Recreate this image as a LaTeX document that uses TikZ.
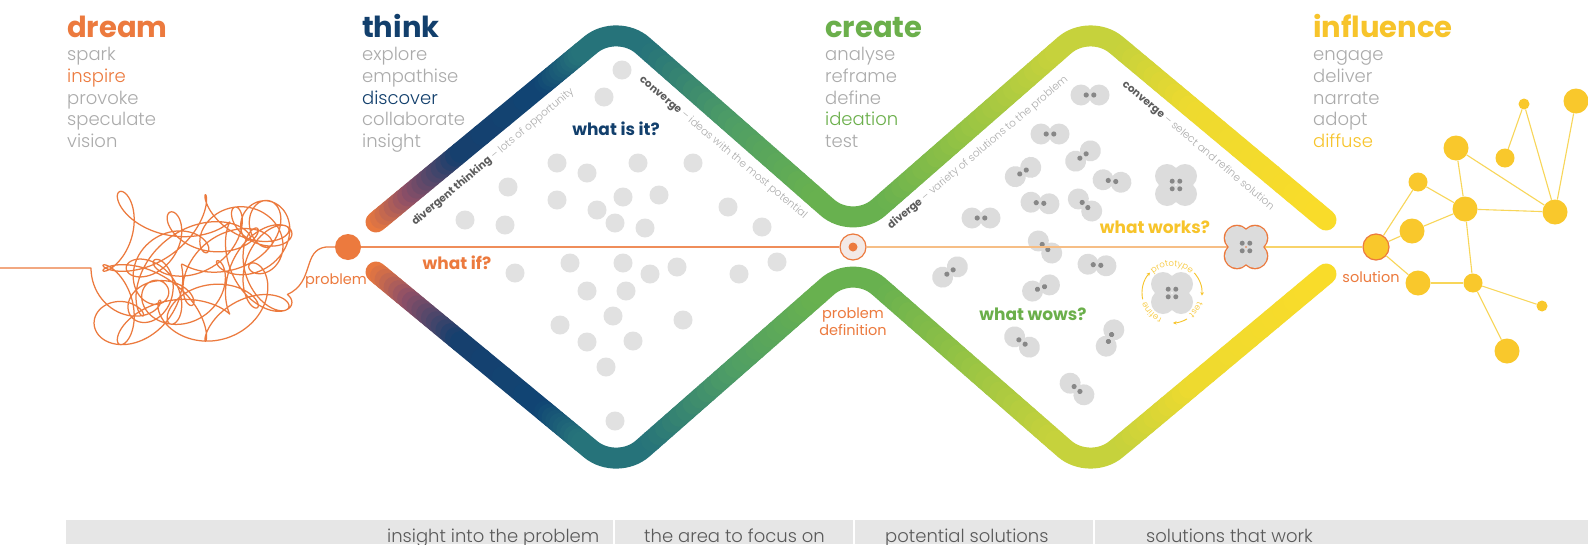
\documentclass[tikz,border=0pt]{standalone}
\usepackage{fontspec}
\setmainfont{Poppins}
\newfontfamily\plight{Poppins Light}
\usetikzlibrary{calc,decorations.text,arrows.meta}

% palette
\definecolor{cdream}{HTML}{EC7A3E}
\definecolor{cthink}{HTML}{123F6C}
\definecolor{ccreate}{HTML}{6BAF4B}
\definecolor{cinfl}{HTML}{F7C42B}
\definecolor{cgreytxt}{HTML}{ABABAB}
\definecolor{cdark}{HTML}{5C5C5C}
\definecolor{cdot}{HTML}{E1E1E1}
\definecolor{cpair}{HTML}{DCDCDC}
\definecolor{cpairdot}{HTML}{878787}
\definecolor{cnet}{HTML}{F9C82C}
\definecolor{cnetline}{HTML}{F8D659}
\definecolor{cbar}{HTML}{E6E6E6}
\definecolor{cbartxt}{HTML}{5A5A5A}
\definecolor{clineA}{HTML}{EF8D5A}
\definecolor{clineB}{HTML}{F6BE86}
\definecolor{clineC}{HTML}{F8D36A}
\definecolor{cring}{HTML}{F3E9E6}
% band gradient stops
\definecolor{g0}{HTML}{EE7B3C}
\definecolor{g1}{HTML}{8E4F67}
\definecolor{g2}{HTML}{173F6D}
\definecolor{g3}{HTML}{104574}
\definecolor{g4}{HTML}{26737A}
\definecolor{g5}{HTML}{4E9D66}
\definecolor{g6}{HTML}{68B14F}
\definecolor{g7}{HTML}{97C444}
\definecolor{g8}{HTML}{C6D23C}
\definecolor{g9}{HTML}{EEDA2F}
\definecolor{g10}{HTML}{F9DC2A}

% a straight stretch of the band, blended from colour #3 to colour #4 in #5 steps
\newcommand\gradline[5]{%
  \foreach \k in {1,...,#5}{%
    \pgfmathsetmacro\ta{(\k-1)/#5}%
    \pgfmathsetmacro\tb{\k/#5}%
    \pgfmathtruncatemacro\pc{round(100*((\k-0.5)/#5))}%
    \draw[bandstroke,draw=#4!\pc!#3] ($(#1)!\ta!(#2)$) -- ($(#1)!\tb!(#2)$);
  }}

% one zig-zag half of the double diamond: end, peak, valley, peak, end
\newcommand\bandhalf[5]{%
  \coordinate (k1) at ($(#1)!0.15!(#2)$);
  \coordinate (k2) at ($(#1)!0.35!(#2)$);
  \coordinate (k3) at ($(#1)!0.70!(#2)$);
  \coordinate (c1a) at ($(#2)!46pt!(#1)$);
  \coordinate (c1b) at ($(#2)!46pt!(#3)$);
  \coordinate (k4) at ($(#2)!0.5!(#3)$);
  \coordinate (c2a) at ($(#3)!46pt!(#2)$);
  \coordinate (c2b) at ($(#3)!46pt!(#4)$);
  \coordinate (k5) at ($(#3)!0.5!(#4)$);
  \coordinate (c3a) at ($(#4)!46pt!(#3)$);
  \coordinate (c3b) at ($(#4)!46pt!(#5)$);
  \coordinate (k6) at ($(#4)!0.45!(#5)$);
  \gradline{#1}{k1}{g0}{g1}{8}
  \gradline{k1}{k2}{g1}{g2}{10}
  \gradline{k2}{k3}{g2}{g3}{4}
  \gradline{k3}{c1a}{g3}{g4}{10}
  \draw[bandstroke,g4,rounded corners=34pt] (c1a) -- (#2) -- (c1b);
  \gradline{c1b}{k4}{g4}{g5}{12}
  \gradline{k4}{c2a}{g5}{g6}{12}
  \draw[bandstroke,g6,rounded corners=34pt] (c2a) -- (#3) -- (c2b);
  \gradline{c2b}{k5}{g6}{g7}{12}
  \gradline{k5}{c3a}{g7}{g8}{12}
  \draw[bandstroke,g8,rounded corners=34pt] (c3a) -- (#4) -- (c3b);
  \gradline{c3b}{k6}{g8}{g9}{10}
  \gradline{k6}{#5}{g9}{g10}{12}
}

\tikzset{
  bandstroke/.style={line width=21pt,line cap=round},
  heading/.style={anchor=base west,inner sep=0pt,font=\fontsize{29}{29}\selectfont\bfseries},
  word/.style={anchor=base west,inner sep=0pt,font=\plight\fontsize{18}{18}\selectfont,text=cgreytxt},
  question/.style={anchor=base,inner sep=0pt,font=\fontsize{17}{17}\selectfont\bfseries},
  armtext/.style={inner sep=0pt,font=\plight\fontsize{10.5}{10.5}\selectfont,text=cgreytxt},
  steplabel/.style={anchor=base,inner sep=0pt,font=\fontsize{14.5}{17}\selectfont,text=cdream,align=center},
  bartext/.style={anchor=base west,inner sep=0pt,font=\plight\fontsize{18}{18}\selectfont,text=cbartxt},
  mainline/.style={line width=1.4pt},
  netline/.style={cnetline,line width=1.1pt},
  netnode/.style={circle,fill=cnet,inner sep=0pt,minimum size=#1},
  cyc/.style={cinfl,line width=0.9pt,-{Stealth[length=3.5pt,width=3.5pt]}},
  ideapair/.pic={
    \fill[cpair] (-9,0) circle (10.5) (9,0) circle (10.5);
    \fill[cpairdot] (-3.8,0) circle (2.6) (3.8,0) circle (2.6);
  },
  ideaquad/.pic={
    \fill[cpair] (-9,-9) circle (12) (9,-9) circle (12) (-9,9) circle (12) (9,9) circle (12);
    \fill[cpairdot] (-3.8,3.8) circle (2.5) (3.8,3.8) circle (2.5) (-3.8,-3.8) circle (2.5) (3.8,-3.8) circle (2.5);
  },
  ideaquadring/.pic={
    \fill[cdream] (-9,-9) circle (13.3) (9,-9) circle (13.3) (-9,9) circle (13.3) (9,9) circle (13.3);
    \fill[cpair] (-9,-9) circle (12) (9,-9) circle (12) (-9,9) circle (12) (9,9) circle (12);
    \fill[cpairdot] (-3.8,3.8) circle (2.5) (3.8,3.8) circle (2.5) (-3.8,-3.8) circle (2.5) (3.8,-3.8) circle (2.5);
  }
}

\begin{document}
\begin{tikzpicture}[x=1pt,y=1pt]
\useasboundingbox (0,0) rectangle (1588,-544);
\fill[white] (0,0) rectangle (1588,-544);

% ---------- the double diamond band ----------
\coordinate (E1) at (376,-222);
\coordinate (A1) at (617,-23);
\coordinate (V)  at (853,-230);
\coordinate (A2) at (1090,-23);
\coordinate (E2) at (1326,-220);
\coordinate (F1) at (376,-272);
\coordinate (B1) at (617,-471);
\coordinate (P)  at (853,-264);
\coordinate (B2) at (1090,-471);
\coordinate (F2) at (1326,-274);
\bandhalf{E1}{A1}{V}{A2}{E2}
\bandhalf{F1}{B1}{P}{B2}{F2}

% ---------- ideas in the first diamond ----------
\foreach \x/\y in {622/70,604/97,557/163,587/173,638/163,693/163,508/187,557/200,623/197,659/195,
  597/210,728/207,465/220,505/225,615/223,645/228,762/227,
  515/273,570/263,623/263,650/274,677/267,739/274,777/262,587/291,626/291,613/316,560/325,
  683/320,587/342,633/341,606/367,615/421}
  \fill[cdot] (\x,-\y) circle (9.5);

% ---------- paired ideas in the second diamond ----------
\foreach \x/\y/\a in {1090/95/0,1050/134/0,1023/172/31,1083/156/35,1112/181/-8,1040/203/-5,
  1085/205/-42,981/218/0,1045/247/-42,1097/265/-5,950/272/35,1041/288/20,1022/342/-35,
  1110/338/65,1077/389/-40}
  \pic[rotate=\a] at (\x,-\y) {ideapair};
\pic at (1176,-185) {ideaquad};

% ---------- milestones on the axis ----------
\node[circle,fill=cdream,minimum size=26pt,inner sep=0pt] (prob) at (348,-247) {};
\node[circle,fill=cring,draw=cdream,line width=1.2pt,minimum size=26pt,inner sep=0pt] (pdef) at (853,-247) {};
\fill[cdream] (pdef.center) circle (4.5);
\node[circle,minimum size=34pt,inner sep=0pt] (works) at (1246,-247) {};
\node[circle,fill=cnet,draw=cdream,line width=1.2pt,minimum size=26pt,inner sep=0pt] (sol) at (1376,-247) {};

\draw[mainline,clineA] (prob) -- (pdef);
\draw[mainline,clineB] (pdef) -- (works);
\draw[mainline,clineC] (works) -- (sol);
\pic at (works.center) {ideaquadring};

% ---------- tangled thought line into the problem ----------
% small loops ridden on a slowly breathing, slowly turning ellipse
\draw[cdream,line width=1.25pt,line join=round]
  (0,-268) .. controls (40,-268) and (65,-268) .. (91,-268)
  -- plot[domain=0:2340,samples=1500,smooth,variable=\t]
     ({200-88*(0.8+0.2*cos(0.5*\t))*cos(\t)-21*cos(4.4*\t)},
      {-(268+60*(0.8+0.2*cos(0.5*\t))*sin(1.1*\t)+21*sin(4.4*\t))})
  .. controls (315,-282) and (302,-250) .. (326,-247) -- (prob.west);

% ---------- prototype / test / refine cycle ----------
\node[circle,minimum size=60pt,inner sep=0pt] (cycle) at (1172,-293) {};
\pic at (cycle.center) {ideaquad};
\draw[cyc] ($(cycle.center)+(192:30)$) arc[start angle=192,end angle=137,radius=30];
\draw[cyc] ($(cycle.center)+(42:30)$) arc[start angle=42,end angle=-5,radius=30];
\draw[cyc] ($(cycle.center)+(-60:30)$) arc[start angle=-60,end angle=-88,radius=30];
\path[decorate,decoration={text along path,text align=center,text color=cinfl,
  text={|\plight\fontsize{8.5}{8.5}\selectfont|prototype}}]
  ($(cycle.center)+(132:27)$) arc[start angle=132,end angle=48,radius=27];
\path[decorate,decoration={text along path,text align=center,text color=cinfl,
  text={|\plight\fontsize{8.5}{8.5}\selectfont|test}}]
  ($(cycle.center)+(-12:27)$) arc[start angle=-12,end angle=-58,radius=27];
\path[decorate,decoration={text along path,text align=center,text color=cinfl,
  text={|\plight\fontsize{8.5}{8.5}\selectfont|refine}}]
  ($(cycle.center)+(-100:27)$) arc[start angle=-100,end angle=-174,radius=27];

% ---------- diffusion network ----------
\node[netnode=25pt] (n1) at (1412,-231) {};
\node[netnode=19pt] (n2) at (1418,-182) {};
\node[netnode=25pt] (n3) at (1418,-283) {};
\node[netnode=25pt] (n4) at (1465,-209) {};
\node[netnode=25pt] (n5) at (1456,-148) {};
\node[netnode=19pt] (n6) at (1505,-158) {};
\node[netnode=11pt] (n7) at (1524,-104) {};
\node[netnode=25pt] (n8) at (1576,-101) {};
\node[netnode=25pt] (n9) at (1555,-212) {};
\node[netnode=19pt] (n10) at (1473,-283) {};
\node[netnode=11pt] (n11) at (1542,-306) {};
\node[netnode=25pt] (n12) at (1507,-351) {};
\foreach \a/\b in {sol/n1,sol/n2,sol/n3,n1/n4,n2/n4,n4/n5,n4/n9,n5/n9,n4/n10,n3/n10,
  n10/n11,n10/n12,n6/n7,n7/n9,n8/n9}
  \draw[netline] (\a) -- (\b);

% ---------- stage headings and word lists ----------
\node[heading,text=cdream] (hdream) at (67,-37.3) {dream};
\node[word] (w11) at (67,-60.7) {spark};
\node[word,text=cdream] (w12) at (67,-82.4) {inspire};
\node[word] (w13) at (67,-104.1) {provoke};
\node[word] (w14) at (67,-125.8) {speculate};
\node[word] (w15) at (67,-147.5) {vision};

\node[heading,text=cthink] (hthink) at (362,-37.3) {think};
\node[word] (w21) at (362,-60.7) {explore};
\node[word] (w22) at (362,-82.4) {empathise};
\node[word,text=cthink] (w23) at (362,-104.1) {discover};
\node[word] (w24) at (362,-125.8) {collaborate};
\node[word] (w25) at (362,-147.5) {insight};

\node[heading,text=ccreate] (hcreate) at (825,-37.3) {create};
\node[word] (w31) at (825,-60.7) {analyse};
\node[word] (w32) at (825,-82.4) {reframe};
\node[word] (w33) at (825,-104.1) {define};
\node[word,text=ccreate] (w34) at (825,-125.8) {ideation};
\node[word] (w35) at (825,-147.5) {test};

\node[heading,text=cinfl] (hinfl) at (1313,-37.3) {influence};
\node[word] (w41) at (1313,-60.7) {engage};
\node[word] (w42) at (1313,-82.4) {deliver};
\node[word] (w43) at (1313,-104.1) {narrate};
\node[word] (w44) at (1313,-125.8) {adopt};
\node[word,text=cinfl] (w45) at (1313,-147.5) {diffuse};

% ---------- questions and captions ----------
\node[question,text=cthink] (qis) at (616,-135) {what is it?};
\node[question,text=cdream] (qif) at (457,-269) {what if?};
\node[question,text=cinfl] (qworks) at (1155,-233) {what works?};
\node[question,text=ccreate] (qwows) at (1033,-320) {what wows?};
\node[steplabel] (lprob) at (336,-284) {problem};
\node[steplabel] (ldef) at (853,-335) {problem\\definition};
\node[steplabel] (lsol) at (1371,-282) {solution};

\node[armtext,rotate=40] (a1) at (493,-157)
  {{\normalfont\bfseries\color{cdark}divergent thinking} – lots of opportunity};
\node[armtext,rotate=-40] (a2) at (723,-148)
  {{\normalfont\bfseries\color{cdark}converge} – ideas with the most potential};
\node[armtext,rotate=40] (a3) at (978,-153)
  {{\normalfont\bfseries\color{cdark}diverge} – variety of solutions to the problem};
\node[armtext,rotate=-40] (a4) at (1198,-146)
  {{\normalfont\bfseries\color{cdark}converge} – select and refine solution};

% ---------- outcome bar ----------
\fill[cbar] (66,-520) rectangle (1588,-544);
\foreach \x in {614,854,1094}
  \draw[white,line width=2.5pt] (\x,-520) -- (\x,-544);
\node[bartext] (b1) at (387,-542.5) {insight into the problem};
\node[bartext] (b2) at (644,-542.5) {the area to focus on};
\node[bartext] (b3) at (885,-542.5) {potential solutions};
\node[bartext] (b4) at (1146,-542.5) {solutions that work};
\end{tikzpicture}
\end{document}
